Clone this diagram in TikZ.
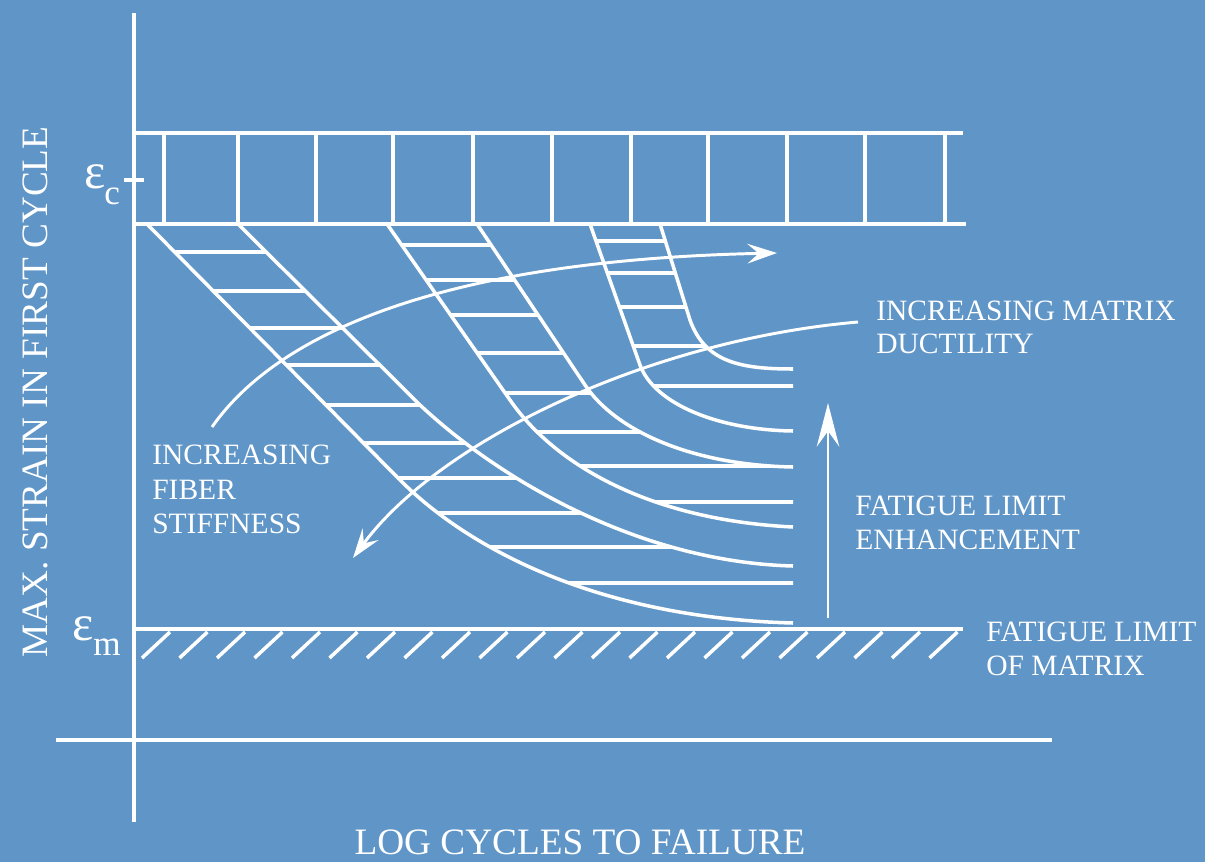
\documentclass[tikz,border=0pt]{standalone}
\usepackage{fontspec}
\setmainfont{Liberation Serif}
\usetikzlibrary{arrows.meta}
\definecolor{plate}{RGB}{95,149,199}

\tikzset{
  ink/.style={draw=white, line width=2.5pt},
  thinink/.style={draw=white, line width=2.1pt},
  arcarrow/.style={thinink, -{Stealth[length=21pt,width=14pt,inset=8pt]}},
  uparrow/.style={thinink, -{Stealth[length=31pt,width=16pt,inset=11pt]}},
  lab/.style={text=white, anchor=base west, inner sep=0pt, font=\fontsize{21}{23}\selectfont},
  axlab/.style={text=white, anchor=base, inner sep=0pt, font=\fontsize{26.5}{28}\selectfont},
  eps/.style={text=white, anchor=base west, inner sep=0pt, font=\fontsize{36}{36}\selectfont},
  epssub/.style={text=white, anchor=base west, inner sep=0pt, font=\fontsize{25}{25}\selectfont},
}

\begin{document}
\begin{tikzpicture}[x=0.025cm, y=-0.025cm]
        \fill[plate] (0,0) rectangle (1205,862);
        \useasboundingbox (0,0) rectangle (1205,862);
        % axes
        \draw[ink] (134,13) -- (134,822);
        \draw[ink] (56,740) -- (1052,740);
        \node[axlab, rotate=90] (ylab) at (47,392) {MAX. STRAIN IN FIRST CYCLE};
        \node[axlab] (xlab) at (580,854) {LOG CYCLES TO FAILURE};
        % composite strain band
        \draw[ink] (124,180) -- (144,180);
        \node[eps] (epsc) at (84,188) {ε};
        \node[epssub] (epscsub) at (104,204) {c};
        \draw[ink] (134,133) -- (963,133);
        \draw[ink] (134,224) -- (966,224);
        \draw[ink] (164,133) -- (164,224);
        \draw[ink] (238,133) -- (238,224);
        \draw[ink] (316,133) -- (316,224);
        \draw[ink] (393,133) -- (393,224);
        \draw[ink] (473,133) -- (473,224);
        \draw[ink] (552,133) -- (552,224);
        \draw[ink] (631,133) -- (631,224);
        \draw[ink] (708,133) -- (708,224);
        \draw[ink] (787,133) -- (787,224);
        \draw[ink] (865,133) -- (865,224);
        \draw[ink] (945,133) -- (945,224);
        % matrix fatigue limit
        \node[eps] (epsm) at (72,640) {ε};
        \node[epssub] (epsmsub) at (93,655) {m};
        \draw[ink] (134,629) -- (963,629);
        \foreach \x in {142,179.5,...,930}
            \draw[ink] (\x,658) -- (\x+28,632);
        % hatching between the S-N curves
        \begin{scope}
            \clip (147,224) -- (400,480) .. controls (470,550) and (600,618) .. (793,623)
                -- (793,566) .. controls (640,562) and (500,480) .. (420,405) -- (238,224) -- cycle;
            \draw[ink] (130,252) -- (800,252);
            \draw[ink] (130,291) -- (800,291);
            \draw[ink] (130,328) -- (800,328);
            \draw[ink] (130,365) -- (800,365);
            \draw[ink] (130,405) -- (800,405);
            \draw[ink] (130,443) -- (800,443);
            \draw[ink] (130,478) -- (800,478);
            \draw[ink] (130,513) -- (800,513);
            \draw[ink] (130,547) -- (800,547);
            \draw[ink] (130,583) -- (800,583);
        \end{scope}
        \begin{scope}
            \clip (387,224) -- (510,400) .. controls (555,465) and (650,520) .. (793,527)
                -- (793,467) .. controls (690,465) and (615,430) .. (585,385) -- (477,224) -- cycle;
            \draw[ink] (380,245) -- (800,245);
            \draw[ink] (380,280) -- (800,280);
            \draw[ink] (380,315) -- (800,315);
            \draw[ink] (380,353) -- (800,353);
            \draw[ink] (380,393) -- (800,393);
            \draw[ink] (380,432) -- (800,432);
            \draw[ink] (380,466) -- (800,466);
            \draw[ink] (380,502) -- (800,502);
        \end{scope}
        \begin{scope}
            \clip (590,224) -- (640,365) .. controls (655,405) and (720,430) .. (793,431)
                -- (793,369) .. controls (740,369) and (705,362) .. (690,320) -- (660,224) -- cycle;
            \draw[ink] (580,241) -- (800,241);
            \draw[ink] (580,273) -- (800,273);
            \draw[ink] (580,307) -- (800,307);
            \draw[ink] (580,346) -- (800,346);
            \draw[ink] (580,386) -- (800,386);
        \end{scope}
        % S-N curves
        \draw[ink] (147,224) -- (400,480) .. controls (470,550) and (600,618) .. (793,623);
        \draw[ink] (238,224) -- (420,405) .. controls (500,480) and (640,562) .. (793,566);
        \draw[ink] (387,224) -- (510,400) .. controls (555,465) and (650,520) .. (793,527);
        \draw[ink] (477,224) -- (585,385) .. controls (615,430) and (690,465) .. (793,467);
        \draw[ink] (590,224) -- (640,365) .. controls (655,405) and (720,430) .. (793,431);
        \draw[ink] (660,224) -- (690,320) .. controls (705,362) and (740,369) .. (793,369);
        % trend arrows
        \draw[arcarrow] (212,427) .. controls (280,330) and (450,260) .. (777,253);
        \draw[arcarrow] (858,322) .. controls (650,340) and (440,440) .. (353,558);
        \draw[uparrow] (828,618) -- (828,403);
        \node[lab] (duct1) at (876,320) {INCREASING MATRIX};
        \node[lab] (duct2) at (876,353) {DUCTILITY};
        \node[lab] (fib1) at (152,464) {INCREASING};
        \node[lab] (fib2) at (152,499) {FIBER};
        \node[lab] (fib3) at (152,533) {STIFFNESS};
        \node[lab] (enh1) at (855,515) {FATIGUE LIMIT};
        \node[lab] (enh2) at (855,549) {ENHANCEMENT};
        \node[lab] (mat1) at (986,641) {FATIGUE LIMIT};
        \node[lab] (mat2) at (986,675) {OF MATRIX};
\end{tikzpicture}
\end{document}
